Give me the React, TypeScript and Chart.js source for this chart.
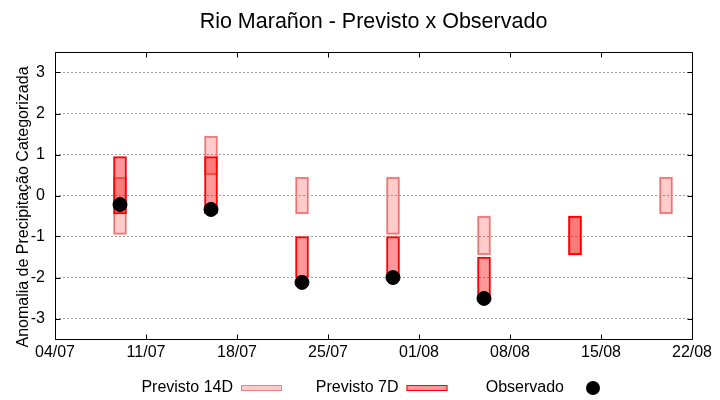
import React, { useEffect, useRef } from "react";
import { Chart, registerables } from "chart.js";

Chart.register(...registerables);

const chartTitle = "Rio Marañon - Previsto x Observado";
const yAxisTitle = "Anomalia de Precipitação Categorizada";
const startDate = "04/07";
const xTickLabels = ["04/07", "11/07", "18/07", "25/07", "01/08", "08/08", "15/08", "22/08"];
const yTickValues = [-3, -2, -1, 0, 1, 2, 3];
const yMin = -3.5;
const yMax = 3.5;

const dates14 = ["09/07", "16/07", "23/07", "30/07", "06/08", "13/08", "20/08"];
const low14 = [-0.95, 0.5, -0.45, -0.95, -1.45, -1.45, -0.45];
const high14 = [0.45, 1.45, 0.45, 0.45, -0.5, -0.5, 0.45];

const dates7 = ["09/07", "16/07", "23/07", "30/07", "06/08", "13/08"];
const low7 = [-0.45, -0.45, -2.0, -2.0, -2.5, -1.45];
const high7 = [0.95, 0.95, -1.0, -1.0, -1.5, -0.5];

const obsDates = ["09/07", "16/07", "23/07", "30/07", "06/08"];
const obsValues = [-0.22, -0.34, -2.12, -2.0, -2.51];

const legendLabels = ["Previsto 14D", "Previsto 7D", "Observado"];

const FONT = '"Liberation Sans", Arial, sans-serif';
const fill14 = "rgba(255,0,0,0.2)";
const border14 = "#f08080";
const fill7 = "rgba(255,0,0,0.4)";
const border7 = "#ff0000";

function dayOffset(s: string): number {
  const [d, m] = s.split("/").map(Number);
  const [d0, m0] = startDate.split("/").map(Number);
  return Math.round((Date.UTC(2024, m - 1, d) - Date.UTC(2024, m0 - 1, d0)) / 86400000);
}

const decorPlugin = {
  id: "decor",
  afterDraw(chart: any) {
    const { ctx, chartArea: a, scales } = chart;
    const xs = scales.x;
    const ys = scales.y;
    ctx.save();
    const L = Math.round(a.left) + 0.5;
    const R = Math.round(a.right) + 0.5;
    const T = Math.round(a.top) + 0.5;
    const B = Math.round(a.bottom) + 0.5;
    ctx.strokeStyle = "#000";
    ctx.lineWidth = 1;
    ctx.setLineDash([]);
    ctx.beginPath();
    ctx.rect(L, T, R - L, B - T);
    const tl = 5;
    xTickLabels.forEach((lab) => {
      const px = Math.round(xs.getPixelForValue(dayOffset(lab))) + 0.5;
      ctx.moveTo(px, B);
      ctx.lineTo(px, B - tl);
      ctx.moveTo(px, T);
      ctx.lineTo(px, T + tl);
    });
    yTickValues.forEach((v) => {
      const py = Math.round(ys.getPixelForValue(v)) + 0.5;
      ctx.moveTo(L, py);
      ctx.lineTo(L + tl, py);
      ctx.moveTo(R, py);
      ctx.lineTo(R - tl, py);
    });
    ctx.stroke();

    // title
    ctx.fillStyle = "#000";
    ctx.font = "21.5px " + FONT;
    ctx.textAlign = "center";
    ctx.textBaseline = "alphabetic";
    ctx.fillText(chartTitle, (a.left + a.right) / 2, 28);

    // y axis title
    ctx.save();
    ctx.translate(28, 207);
    ctx.rotate(-Math.PI / 2);
    ctx.font = "16px " + FONT;
    ctx.textAlign = "center";
    ctx.textBaseline = "alphabetic";
    ctx.fillText(yAxisTitle, 0, 0);
    ctx.restore();

    // legend (gnuplot style: text, then sample)
    const ds = chart.data.datasets;
    ctx.font = "16px " + FONT;
    ctx.textBaseline = "middle";
    ctx.textAlign = "right";
    const legY = 386;
    legendLabels.forEach((lab, i) => {
      const d = ds.find((x: any) => x.label === lab);
      if (!d) return;
      const base = 241 + i * 165.5;
      ctx.fillStyle = "#000";
      ctx.fillText(lab, base - 8, legY + 1.5);
      if (d.legendKind === "box") {
        ctx.fillStyle = d.backgroundColor;
        ctx.fillRect(base, legY - 1, 41, 6);
        ctx.strokeStyle = d.borderColor;
        ctx.lineWidth = 1;
        ctx.strokeRect(base + 0.5, legY - 1 + 0.5, 40, 5);
      } else {
        ctx.fillStyle = "#000";
        ctx.beginPath();
        ctx.arc(base + 21, legY + 2, 7, 0, Math.PI * 2);
        ctx.fill();
      }
    });
    ctx.restore();
  },
};

export default function App() {
  const ref = useRef<HTMLCanvasElement | null>(null);
  useEffect(() => {
    if (!ref.current) return;
    const chart = new Chart(ref.current, {
      type: "bar",
      data: {
        datasets: [
          {
            type: "line",
            label: legendLabels[2],
            legendKind: "dot",
            data: obsDates.map((d, i) => ({ x: dayOffset(d), y: obsValues[i] })),
            showLine: false,
            pointRadius: 7,
            pointHoverRadius: 7,
            pointBackgroundColor: "#000",
            pointBorderColor: "#000",
            borderColor: "#000",
            backgroundColor: "#000",
            order: 0,
          } as any,
          {
            type: "bar",
            label: legendLabels[1],
            legendKind: "box",
            data: dates7.map((d, i) => ({ x: dayOffset(d), y: [low7[i], high7[i]] })),
            backgroundColor: fill7,
            borderColor: border7,
            borderWidth: 1.3,
            borderSkipped: false,
            barThickness: 13,
            grouped: false,
            order: 1,
          } as any,
          {
            type: "bar",
            label: legendLabels[0],
            legendKind: "box",
            data: dates14.map((d, i) => ({ x: dayOffset(d), y: [low14[i], high14[i]] })),
            backgroundColor: fill14,
            borderColor: border14,
            borderWidth: 1.3,
            borderSkipped: false,
            barThickness: 13,
            grouped: false,
            order: 2,
          } as any,
        ],
      },
      options: {
        responsive: false,
        animation: false,
        devicePixelRatio: 1,
        layout: { padding: { left: 0, right: 28, top: 52, bottom: 0 } },
        plugins: {
          legend: { display: false },
          title: { display: false },
          tooltip: { enabled: false },
        },
        scales: {
          x: {
            type: "linear",
            min: 0,
            max: dayOffset(xTickLabels[xTickLabels.length - 1]),
            offset: false,
            grid: { display: false, drawTicks: false },
            border: { display: false },
            afterBuildTicks: (axis: any) => {
              axis.ticks = xTickLabels.map((l) => ({ value: dayOffset(l) }));
            },
            afterFit: (axis: any) => {
              axis.height = 61;
            },
            ticks: {
              autoSkip: false,
              maxRotation: 0,
              minRotation: 0,
              padding: 4,
              color: "#000",
              font: { family: FONT, size: 16 },
              callback: (_v: any, i: number) => xTickLabels[i],
            },
          },
          y: {
            type: "linear",
            min: yMin,
            max: yMax,
            grid: {
              display: true,
              drawTicks: false,
              color: "#a0a0a0",
              lineWidth: 1,
            },
            border: { display: false, dash: [2, 2] },
            afterBuildTicks: (axis: any) => {
              axis.ticks = yTickValues.map((v) => ({ value: v }));
            },
            afterFit: (axis: any) => {
              axis.width = 55;
            },
            ticks: {
              padding: 10,
              color: "#000",
              font: { family: FONT, size: 16 },
              callback: (v: any) => String(v),
            },
          },
        },
      } as any,
      plugins: [decorPlugin],
    });
    return () => chart.destroy();
  }, []);
  return (
    <div style={{ position: "fixed", left: 0, top: 0, width: 720, height: 400, background: "#fff" }}>
      <canvas ref={ref} width={720} height={400} style={{ width: 720, height: 400, display: "block" }} />
    </div>
  );
}
